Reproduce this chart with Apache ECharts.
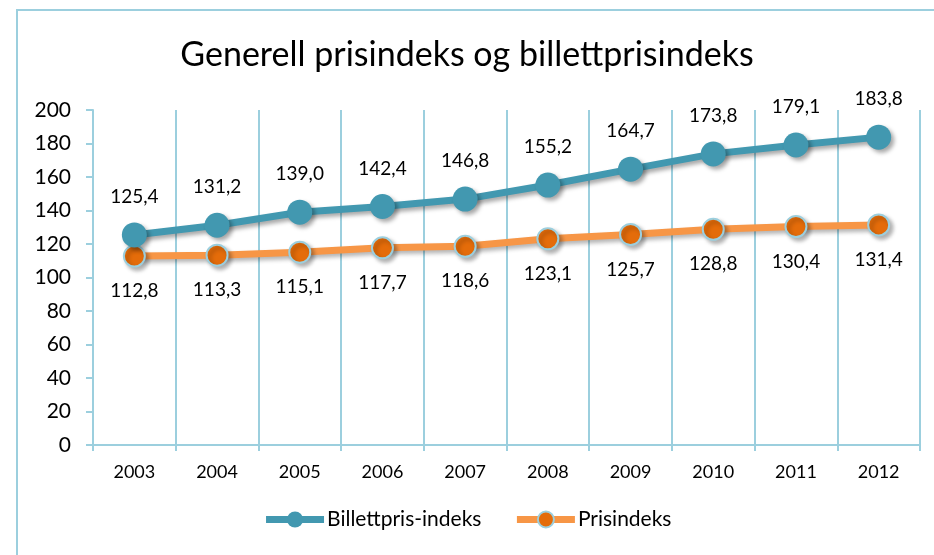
<!DOCTYPE html>
<html>
<head>
<meta charset="utf-8">
<script src="https://cdn.jsdelivr.net/npm/echarts@6/dist/echarts.min.js"></script>
<style>
  html, body { margin: 0; padding: 0; background: #fff; }
  #chart { width: 934px; height: 555px; }
</style>
</head>
<body>
<div id="chart"></div>
<script>
const years = ["2003", "2004", "2005", "2006", "2007", "2008", "2009", "2010", "2011", "2012"];
const billettprisIndeks = [125.4, 131.2, 139.0, 142.4, 146.8, 155.2, 164.7, 173.8, 179.1, 183.8];
const prisindeks = [112.8, 113.3, 115.1, 117.7, 118.6, 123.1, 125.7, 128.8, 130.4, 131.4];

const FONT = "Lato";
const frameColor = "#9ccfde";
const fmt = (p) => p.value.toFixed(1).replace(".", ",");

const chart = echarts.init(document.getElementById("chart"));

const option = {
  animation: false,
  textStyle: { fontFamily: FONT },
  title: {
    text: "Generell prisindeks og billettprisindeks",
    left: "center",
    top: 33,
    textStyle: { fontFamily: FONT, fontSize: 34, fontWeight: "normal", color: "#000" },
  },
  graphic: [
    {
      type: "rect",
      shape: { x: 17, y: 10, width: 1000, height: 1000 },
      style: { fill: "none", stroke: frameColor, lineWidth: 2 },
      silent: true,
    },
  ],
  grid: { left: 93, right: 14, top: 110, bottom: 110 },
  legend: {
    bottom: 20,
    left: "center",
    itemWidth: 58,
    itemHeight: 20,
    itemGap: 32,
    textStyle: { fontFamily: FONT, fontSize: 21, color: "#000", padding: [0, 0, 0, -2] },
    lineStyle: { width: 7 },
    data: ["Billettpris-indeks", "Prisindeks"],
  },
  xAxis: {
    type: "category",
    data: years,
    boundaryGap: true,
    axisLine: { lineStyle: { color: frameColor, width: 2 } },
    axisTick: { show: true, length: 6, lineStyle: { color: frameColor, width: 2 } },
    splitLine: { show: true, lineStyle: { color: frameColor, width: 2 } },
    axisLabel: { fontFamily: FONT, fontSize: 18, color: "#000", margin: 18 },
  },
  yAxis: {
    type: "value",
    min: 0,
    max: 200,
    interval: 20,
    axisLine: { show: true, lineStyle: { color: frameColor, width: 2 } },
    axisTick: { show: true, length: 7, lineStyle: { color: frameColor, width: 2 } },
    splitLine: { show: false },
    axisLabel: { fontFamily: FONT, fontSize: 21, color: "#000", margin: 22 },
  },
  series: [
    {
      name: "Billettpris-indeks",
      type: "line",
      data: billettprisIndeks,
      symbol: "circle",
      symbolSize: 25,
      z: 3,
      lineStyle: {
        color: "#4298b0",
        width: 7,
        shadowColor: "rgba(0,0,0,0.35)",
        shadowBlur: 4,
        shadowOffsetX: 3,
        shadowOffsetY: 3,
      },
      itemStyle: {
        color: "#4298b0",
        shadowColor: "rgba(0,0,0,0.35)",
        shadowBlur: 4,
        shadowOffsetX: 3,
        shadowOffsetY: 3,
      },
      label: {
        show: true,
        position: "top",
        distance: 16,
        formatter: fmt,
        fontFamily: FONT,
        fontSize: 19,
        color: "#000",
      },
    },
    {
      name: "Prisindeks",
      type: "line",
      data: prisindeks,
      symbol: "circle",
      symbolSize: 21,
      z: 2,
      lineStyle: {
        color: "#f79646",
        width: 7,
        shadowColor: "rgba(0,0,0,0.3)",
        shadowBlur: 4,
        shadowOffsetX: 3,
        shadowOffsetY: 3,
      },
      itemStyle: {
        color: "#e46c0a",
        borderColor: "#9ccfde",
        borderWidth: 2,
        shadowColor: "rgba(0,0,0,0.3)",
        shadowBlur: 4,
        shadowOffsetX: 3,
        shadowOffsetY: 3,
      },
      label: {
        show: true,
        position: "bottom",
        distance: 14,
        formatter: fmt,
        fontFamily: FONT,
        fontSize: 19,
        color: "#000",
      },
    },
  ],
};

chart.setOption(option);
</script>
</body>
</html>
